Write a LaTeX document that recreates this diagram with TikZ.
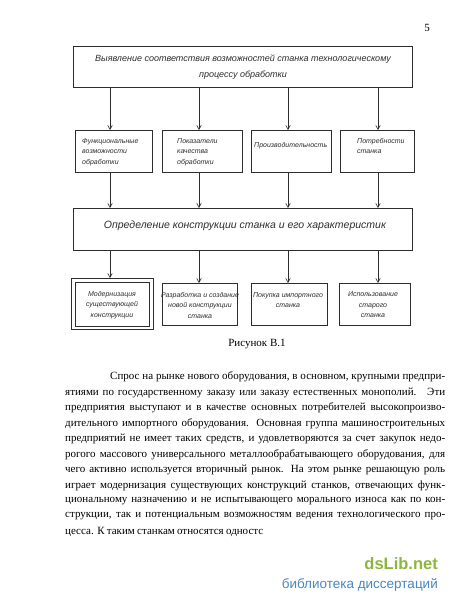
\documentclass[tikz,border=0pt]{standalone}
\usepackage{fontspec}
\setmainfont{Liberation Serif}
\newfontfamily\gost{Liberation Sans}
\newfontfamily\wmfont{Liberation Sans}
\usetikzlibrary{arrows.meta}
\definecolor{ink}{RGB}{45,45,45}
\definecolor{wmgreen}{RGB}{140,182,60}
\definecolor{wmblue}{RGB}{75,135,190}
\begin{document}
\begin{tikzpicture}[x=1pt,y=-1pt,
  frame/.style={draw=ink, line width=0.7pt, inner sep=0pt, anchor=north west},
  lbl/.style={font=\gost\itshape\fontsize{7}{10.5}\selectfont, text=ink, inner sep=0pt},
  arr/.style={draw=ink, line width=0.6pt, -{Straight Barb[length=4pt,width=4.5pt]}},
  body/.style={font=\fontsize{11}{13}\selectfont, anchor=west, inner sep=0pt, text=black}]
\useasboundingbox[fill=white] (0,0) rectangle (450,605);

\node[font=\fontsize{11}{13}\selectfont] (pg) at (427,28) {5};

% top box
\node[frame, minimum width=339pt, minimum height=41pt] (top) at (73,46) {};
\node[lbl, font=\gost\itshape\fontsize{9}{16}\selectfont, align=center] (toptext) at (243,67)
  {Выявление соответствия возможностей станка технологическому\\процессу обработки};

% row 2
\node[frame, minimum width=77pt, minimum height=42pt] (f1) at (75,130) {};
\node[frame, minimum width=80pt, minimum height=42pt] (f2) at (162,130) {};
\node[frame, minimum width=80pt, minimum height=42pt] (f3) at (251,130) {};
\node[frame, minimum width=74pt, minimum height=42pt] (f4) at (340,130) {};
\node[lbl, anchor=west, align=left] (f1t) at (82,152) {Функциональные\\возможности\\обработки};
\node[lbl, anchor=west, align=left] (f2t) at (177,152) {Показатели\\качества\\обработки};
\node[lbl, anchor=west, align=left] (f3t) at (254,146) {Производительность};
\node[lbl, anchor=west, align=left] (f4t) at (357,146) {Потребности\\станка};

% middle box
\node[frame, minimum width=339pt, minimum height=42pt] (mid) at (73,208) {};
\node[lbl, font=\gost\itshape\fontsize{10.5}{13}\selectfont] (midt) at (245,226)
  {Определение конструкции станка и его характеристик};

% bottom row
\node[frame, minimum width=82pt, minimum height=51pt] (m1) at (71,278) {};
\node[frame, minimum width=74pt, minimum height=44pt] (m1in) at (75,282) {};
\node[frame, minimum width=75pt, minimum height=42pt] (m2) at (162,283) {};
\node[frame, minimum width=76pt, minimum height=42pt] (m3) at (251,283) {};
\node[frame, minimum width=71pt, minimum height=42pt] (m4) at (339,283) {};
\node[lbl, align=center] (m1t) at (112,305) {Модернизация\\существующей\\конструкции};
\node[lbl, align=center] (m2t) at (200,305) {Разработка и создание\\новой конструкции\\станка};
\node[lbl, align=center] (m3t) at (288,300) {Покупка импортного\\станка};
\node[lbl, align=center] (m4t) at (373,305) {Использование\\старого\\станка};

% arrow columns
\coordinate (c1) at (110,0);
\coordinate (c2) at (199,0);
\coordinate (c3) at (288,0);
\coordinate (c4) at (378,0);
\draw[arr] (top.south -| c1) -- (f1.north -| c1);
\draw[arr] (top.south -| c2) -- (f2.north -| c2);
\draw[arr] (top.south -| c3) -- (f3.north -| c3);
\draw[arr] (top.south -| c4) -- (f4.north -| c4);
\draw[arr] (f1.south -| c1) -- (mid.north -| c1);
\draw[arr] (f2.south -| c2) -- (mid.north -| c2);
\draw[arr] (f3.south -| c3) -- (mid.north -| c3);
\draw[arr] (f4.south -| c4) -- (mid.north -| c4);
\draw[arr] (mid.south -| c1) -- (m1.north -| c1);
\draw[arr] (mid.south -| c2) -- (m2.north -| c2);
\draw[arr] (mid.south -| c3) -- (m3.north -| c3);
\draw[arr] (mid.south -| c4) -- (m4.north -| c4);

\node[font=\fontsize{11}{13}\selectfont] (cap) at (257,344) {Рисунок В.1};

% body text
\node[body] (l1) at (110,377) {\makebox[335pt][s]{Спрос на рынке нового оборудования, в основном, крупными предпри-}};
\node[body] (l2) at (65,392.5) {\makebox[380pt][s]{ятиями по государственному заказу или заказу естественных монополий. \ Эти}};
\node[body] (l3) at (65,408) {\makebox[380pt][s]{предприятия выступают и в качестве основных потребителей высокопроизво-}};
\node[body] (l4) at (65,423.5) {\makebox[380pt][s]{дительного импортного оборудования. Основная группа машиностроительных}};
\node[body] (l5) at (65,439) {\makebox[380pt][s]{предприятий не имеет таких средств, и удовлетворяются за счет закупок недо-}};
\node[body] (l6) at (65,454.5) {\makebox[380pt][s]{рогого массового универсального металлообрабатывающего оборудования, для}};
\node[body] (l7) at (65,470) {\makebox[380pt][s]{чего активно используется вторичный рынок. На этом рынке решающую роль}};
\node[body] (l8) at (65,485.5) {\makebox[380pt][s]{играет модернизация существующих конструкций станков, отвечающих функ-}};
\node[body] (l9) at (65,501) {\makebox[380pt][s]{циональному назначению и не испытывающего морального износа как по кон-}};
\node[body] (l10) at (65,516.5) {\makebox[380pt][s]{струкции, так и потенциальным возможностям ведения технологического про-}};
\node[body] (l11) at (65,532) {\makebox[198pt][s]{цесса. К таким станкам относятся одностс}};

% watermark
\node[font=\wmfont\bfseries\fontsize{16.5}{18}\selectfont, text=wmgreen, anchor=east, inner sep=0pt] (wm1) at (438,564) {dsLib.net};
\node[font=\wmfont\fontsize{13.5}{16}\selectfont, text=wmblue, anchor=east, inner sep=0pt] (wm2) at (438,585) {библиотека диссертаций};
\end{tikzpicture}
\end{document}
